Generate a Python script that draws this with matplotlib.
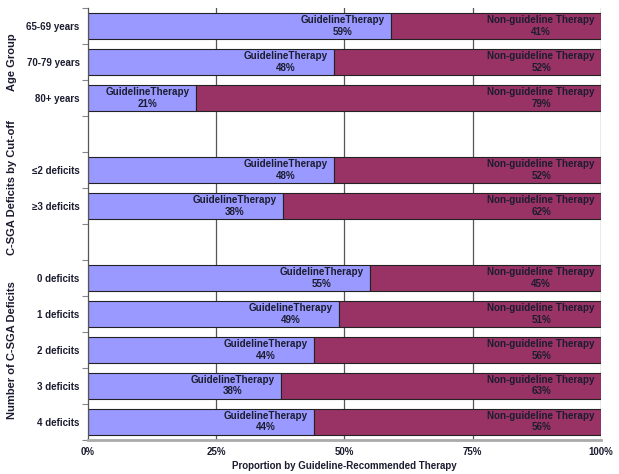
import numpy as np
import matplotlib.pyplot as plt
import matplotlib.transforms as mtransforms

plt.rcParams['font.family'] = ['Liberation Sans', 'DejaVu Sans']

# rows top to bottom, '' marks an empty spacer row
rows = ['65-69 years', '70-79 years', '80+ years', '',
        '\u22642 deficits', '\u22653 deficits', '',
        '0 deficits', '1 deficits', '2 deficits', '3 deficits', '4 deficits']
categories = [r for r in rows if r]
guideline = [59, 48, 21, 48, 38, 55, 49, 44, 38, 44]
non_guideline = [41, 52, 79, 52, 62, 45, 51, 56, 63, 56]
groups = [('Age Group', ['65-69 years', '80+ years']),
          ('C-SGA Deficits by Cut-off', ['\u22642 deficits', '\u22653 deficits']),
          ('Number of C-SGA Deficits', ['0 deficits', '4 deficits'])]
xticks = [0, 25, 50, 75, 100]

blue = '#9999FF'
maroon = '#993366'
txt = '#1c1c30'

g = np.array(guideline, float)
n = np.array(non_guideline, float)
gp = g / (g + n) * 100
npct = n / (g + n) * 100
ypos = np.array([rows.index(c) for c in categories])

fig = plt.figure(figsize=(6.19, 4.74), dpi=100)
ax = fig.add_axes([0.142, 0.072, 0.829, 0.911])

for x in xticks[1:]:
    ax.axvline(x, color='#555555', lw=0.9, zorder=0)

ax.barh(ypos, gp, height=0.72, color=blue, edgecolor='#222222', lw=0.8, zorder=2)
ax.barh(ypos, npct, left=gp, height=0.72, color=maroon, edgecolor='#222222', lw=0.8, zorder=2)

for y, a, b, va, vb in zip(ypos, gp, npct, guideline, non_guideline):
    ax.text(a - 1.2, y, f'GuidelineTherapy\n{va}%', ha='right', va='center',
            multialignment='center', fontsize=7.1, fontweight='bold', color=txt,
            linespacing=1.15, zorder=3)
    ax.text(a + b - 1.2, y, f'Non-guideline Therapy\n{vb}%', ha='right', va='center',
            multialignment='center', fontsize=7.1, fontweight='bold', color=txt,
            linespacing=1.15, zorder=3)

ax.set_xlim(0, 100)
ax.set_ylim(len(rows) - 0.5, -0.5)
ax.set_xticks(xticks)
ax.set_xticklabels([f'{v}%' for v in xticks], fontsize=7, fontweight='bold', color=txt)
ax.tick_params(axis='x', length=0, pad=5)

ax.set_yticks(ypos)
ax.set_yticklabels(categories, fontsize=7, fontweight='bold', color=txt)
ax.set_yticks(np.arange(len(rows) + 1) - 0.5, minor=True)
ax.tick_params(axis='y', which='major', length=0, pad=6)
ax.tick_params(axis='y', which='minor', length=4, color='#888888', width=0.8)

ax.set_xlabel('Proportion by Guideline-Recommended Therapy', fontsize=7,
              fontweight='bold', color=txt, labelpad=3)

for s in ['top', 'right']:
    ax.spines[s].set_visible(False)
ax.spines['left'].set_color('#555555')
ax.spines['left'].set_linewidth(0.9)
ax.spines['bottom'].set_color('#aaaaaa')
ax.spines['bottom'].set_linewidth(2)

trans = mtransforms.blended_transform_factory(ax.transAxes, ax.transData)
for title, (first, last) in groups:
    yc = (rows.index(first) + rows.index(last)) / 2
    ax.text(-0.147, yc, title, transform=trans, rotation=90, ha='center',
            va='center', fontsize=8, fontweight='bold', color=txt)

fig.savefig('out.png', dpi=100)
